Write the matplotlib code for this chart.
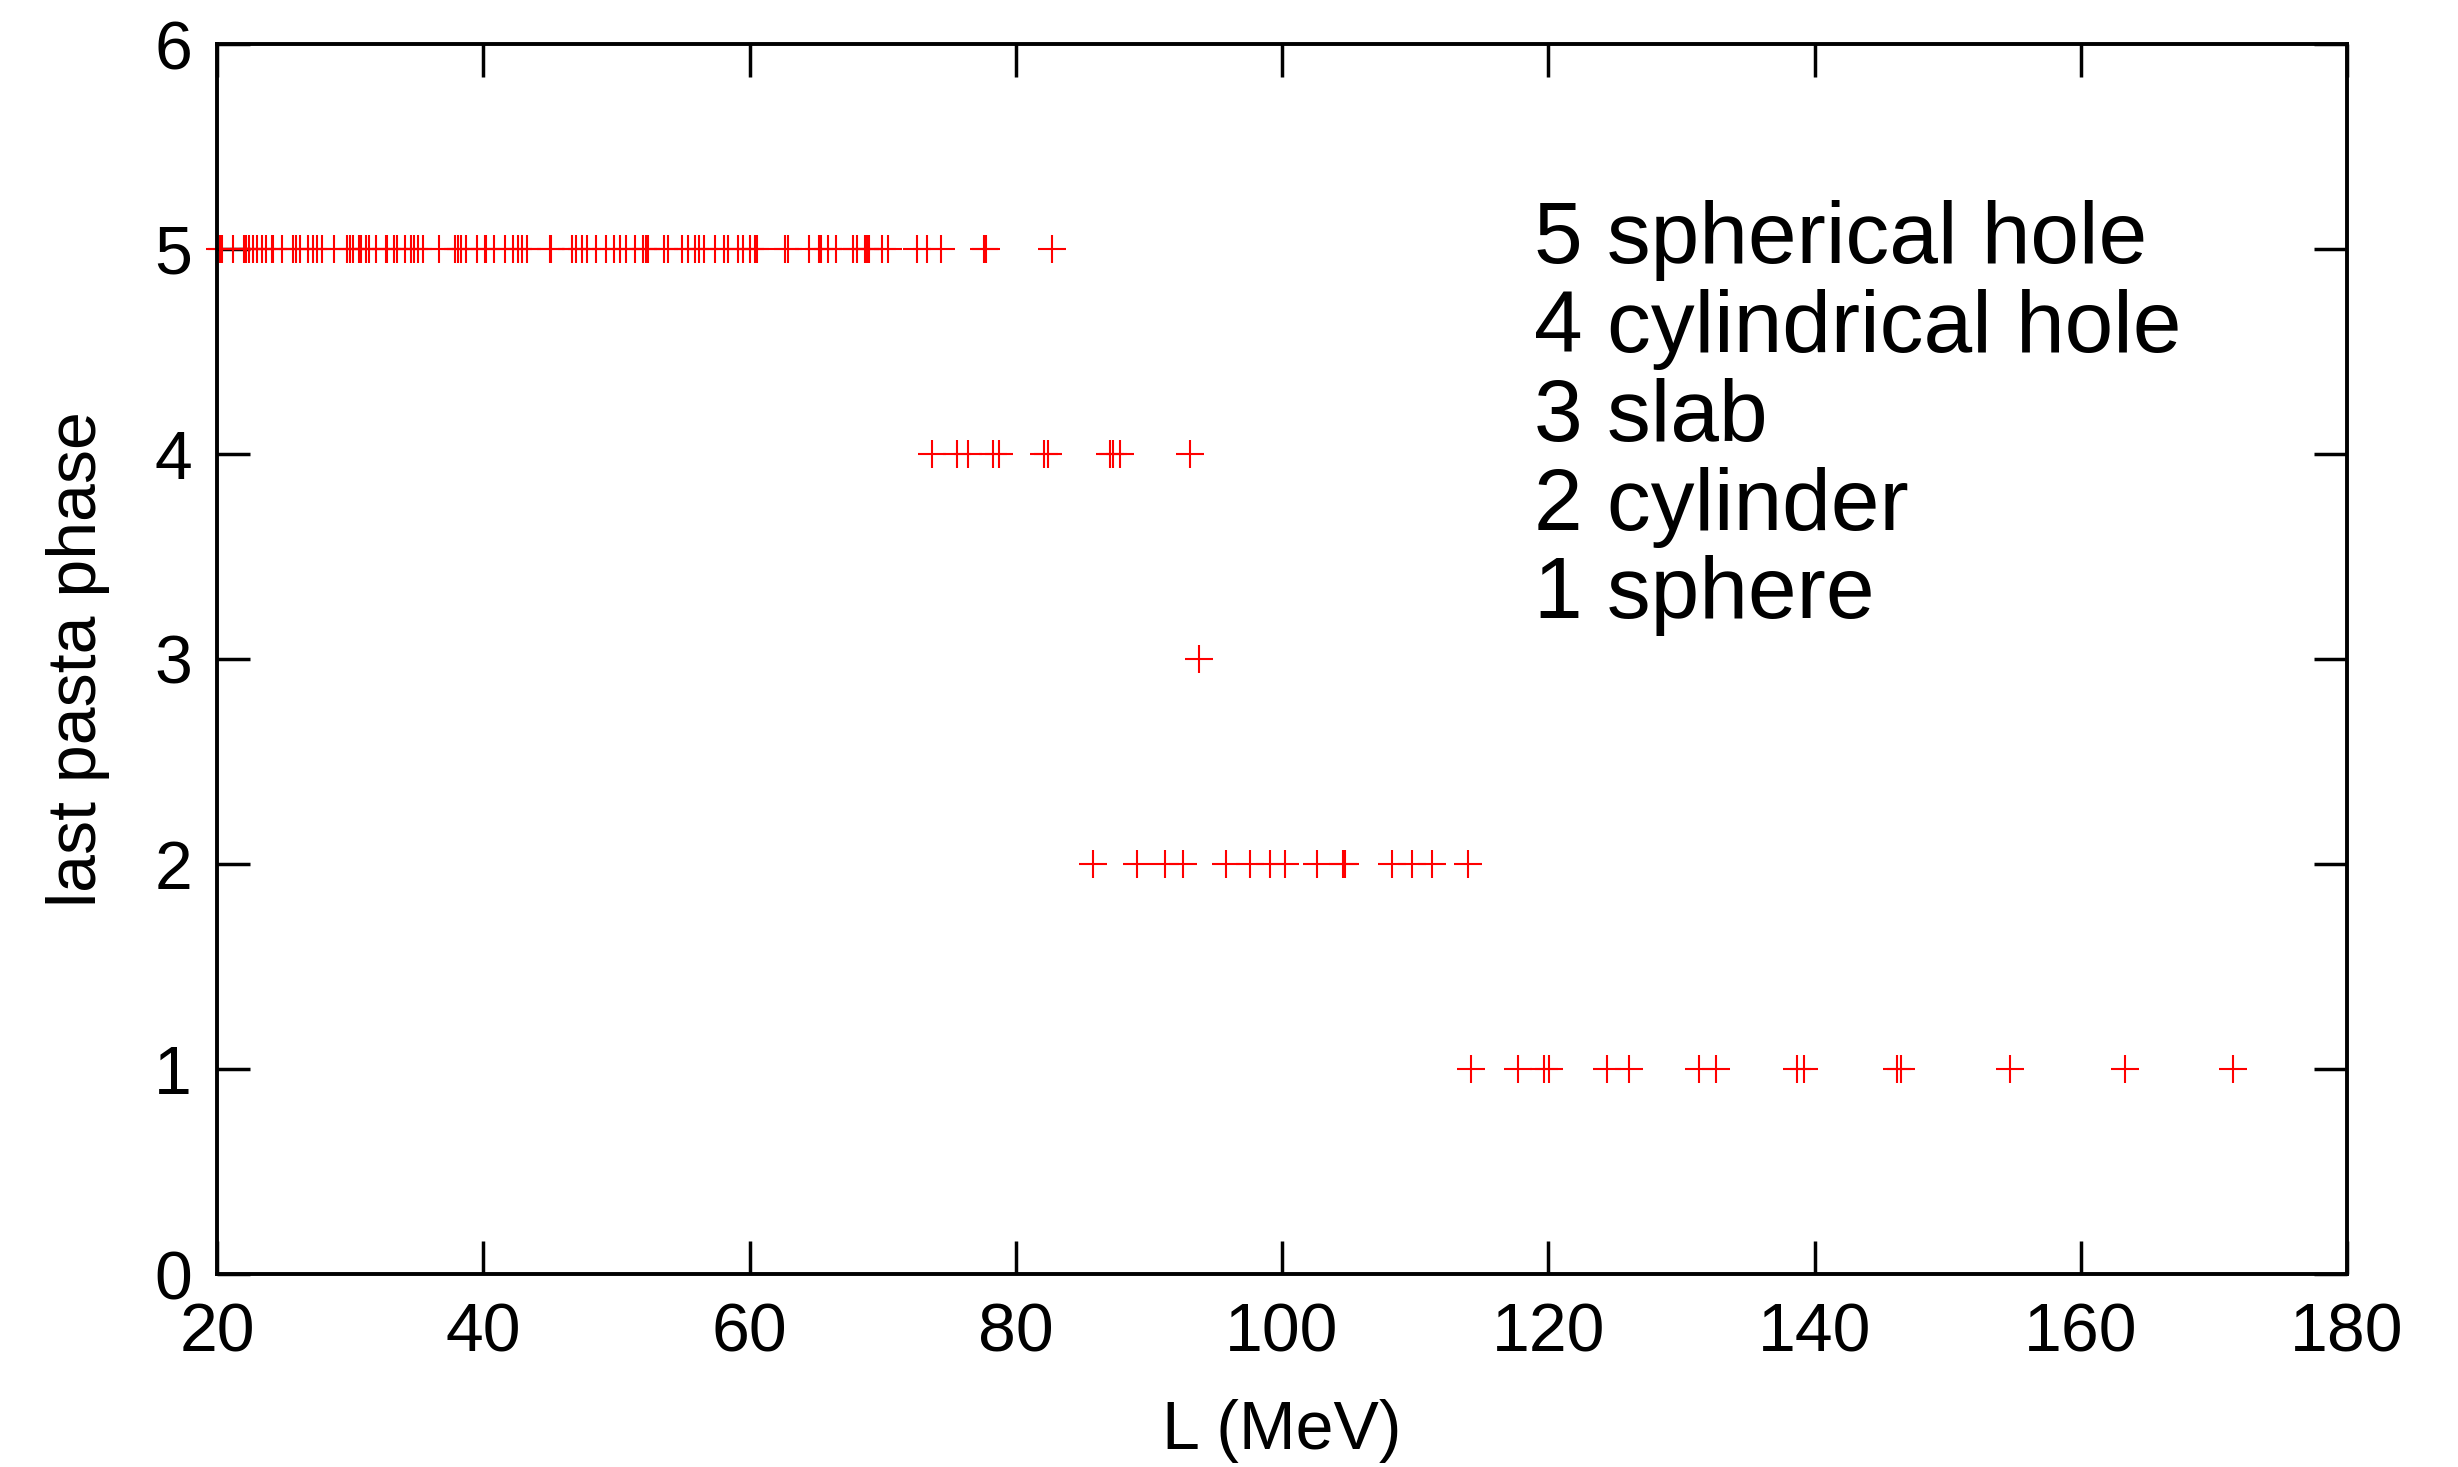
import matplotlib
matplotlib.use("Agg")
import matplotlib.pyplot as plt

# Data
L_phase5 = [20.2, 20.4, 21.2, 22.05, 22.2, 22.4, 22.7, 23.0, 23.4, 23.7, 24.1, 24.2, 24.9,
            25.7, 25.96, 26.2, 26.8, 27.2, 27.5, 27.9, 28.8, 29.8, 30.0, 30.2, 30.65, 30.8,
            31.2, 31.45, 31.95, 32.7, 32.8, 33.3, 33.5, 34.1, 34.6, 34.8, 35.1, 35.5, 36.7,
            37.9, 38.1, 38.3, 38.7, 39.5, 40.1, 40.2, 40.8, 41.6, 42.2, 42.6, 42.9, 43.3,
            45.0, 45.1, 46.7, 47.0, 47.4, 47.8, 48.5, 49.2, 49.8, 50.3, 50.7, 51.4, 52.0,
            52.2, 52.35, 53.6, 53.9, 54.9, 55.4, 55.9, 56.2, 56.6, 57.4, 58.1, 58.4, 59.1,
            59.5, 60.0, 60.4, 60.6, 62.7, 62.9, 64.5, 65.2, 65.4, 65.9, 66.5, 67.8, 68.1,
            68.7, 68.85, 69.0, 69.95, 70.4, 72.6, 73.35, 74.4, 77.6, 77.8, 82.7]
L_phase4 = [73.7, 75.6, 76.4, 78.3, 78.75, 82.1, 82.4, 87.1, 87.3, 87.8, 93.1]
L_phase3 = [93.8]
L_phase2 = [85.8, 89.1, 91.2, 92.6, 95.8, 97.6, 99.1, 100.2, 102.6, 104.6, 104.7,
            108.3, 109.8, 111.3, 113.95]
L_phase1 = [114.2, 117.7, 119.7, 120.05, 124.4, 126.05, 131.3, 132.6, 138.65, 139.2,
            146.2, 146.5, 154.7, 163.3, 171.4]

legend_lines = ["5 spherical hole", "4 cylindrical hole", "3 slab", "2 cylinder", "1 sphere"]
x_ticks = [20, 40, 60, 80, 100, 120, 140, 160, 180]
y_ticks = [0, 1, 2, 3, 4, 5, 6]

plt.rcParams['font.family'] = ['Liberation Sans', 'DejaVu Sans']

fig = plt.figure(figsize=(24.58, 14.67), dpi=100)
ax = fig.add_axes([217/2458, 1 - 1274/1467, (2347-217)/2458, (1274-44)/1467])

for xs, yv in [(L_phase5, 5), (L_phase4, 4), (L_phase3, 3), (L_phase2, 2), (L_phase1, 1)]:
    ax.plot(xs, [yv]*len(xs), linestyle='none', marker='+', color='#ff0000',
            markersize=20, markeredgewidth=1.5, clip_on=False)

ax.set_xlim(20, 180)
ax.set_ylim(0, 6)
ax.set_xticks(x_ticks)
ax.set_yticks(y_ticks)
ax.tick_params(direction='in', length=24, width=2.5, labelsize=49,
               top=True, right=True)
ax.tick_params(axis='x', pad=20)
ax.tick_params(axis='y', pad=18)
for s in ax.spines.values():
    s.set_linewidth(2.8)

ax.set_xlabel("L (MeV)", fontsize=49, labelpad=24)
ax.set_ylabel("last pasta phase", fontsize=49, labelpad=32)

for i, t in enumerate(legend_lines):
    ax.text(118.9, 5.04 - i*0.433, t, fontsize=63, va='center', ha='left')

fig.savefig("out.png", dpi=100)
